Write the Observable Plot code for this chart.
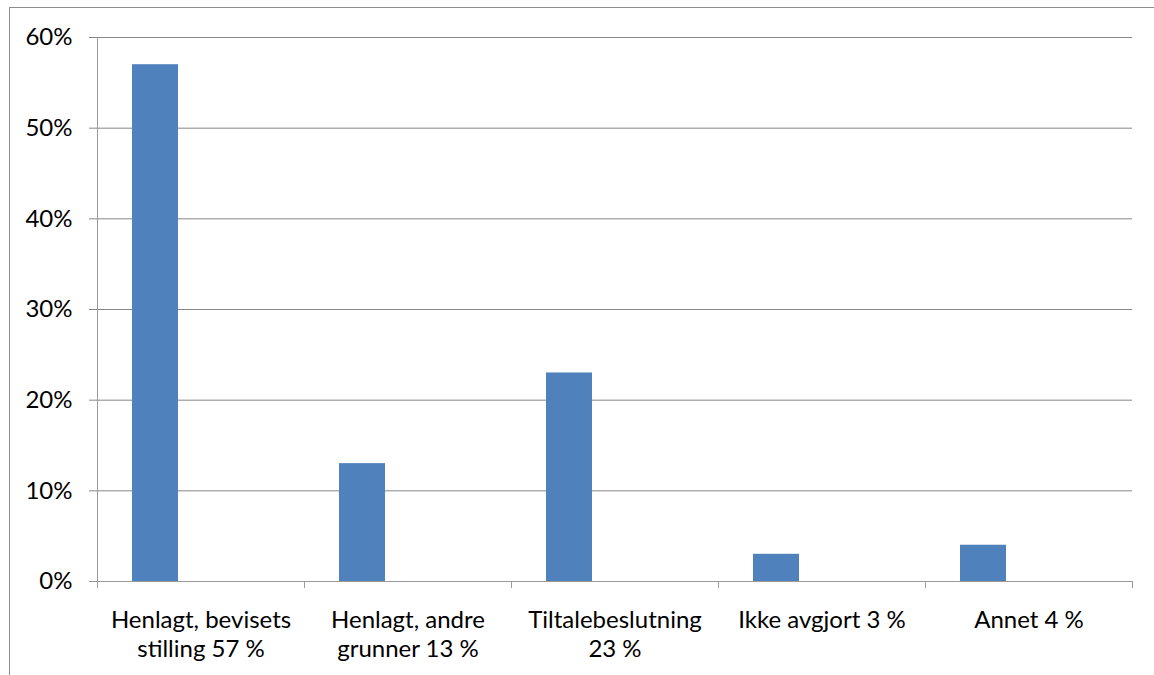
<!DOCTYPE html>
<html><head><meta charset="utf-8">
<script src="https://cdn.jsdelivr.net/npm/d3@7"></script>
<script src="https://cdn.jsdelivr.net/npm/@observablehq/plot@0.6"></script>
<style>
html,body{margin:0;padding:0;background:#fff;}
#wrap{position:relative;width:1154px;height:675px;overflow:hidden;}
#frame{position:absolute;left:9px;top:7px;width:1300px;height:800px;border-left:1px solid #8c8c8c;border-top:1px solid #8c8c8c;box-sizing:border-box;}
#chart{position:absolute;left:0;top:0;}
</style></head><body><div id="wrap"><div id="frame"></div><div id="chart"></div></div>
<script>
const categories = [
  "Henlagt, bevisets\nstilling 57 %",
  "Henlagt, andre\ngrunner 13 %",
  "Tiltalebeslutning\n23 %",
  "Ikke avgjort 3 %",
  "Annet 4 %"
];
const values = [57, 13, 23, 3, 4];
const yTicks = [0, 10, 20, 30, 40, 50, 60];

const W = 1154, H = 675, mL = 97, mR = 22, mT = 37, mB = 94;
const bw = (W - mL - mR) / categories.length;
const data = categories.map((c, i) => ({category: c, value: values[i]}));
const fs = 24;

const chart = Plot.plot({
  width: W, height: H,
  marginLeft: mL, marginRight: mR, marginTop: mT, marginBottom: mB,
  style: {fontFamily: "Lato, 'Open Sans', sans-serif", fontSize: fs + "px", color: "#000", background: "transparent", overflow: "visible"},
  x: {domain: categories, padding: 0, label: null},
  y: {domain: [0, 60], label: null},
  marks: [
    Plot.ruleY(yTicks.filter(d => d > 0), {y: d => d, stroke: "#868686", insetLeft: -8}),
    Plot.barY(data, {x: "category", y: "value", fill: "#4F81BD", insetLeft: 35, insetRight: bw - 81}),
    Plot.ruleY([0], {y: d => d, stroke: "#9a9a9a", insetLeft: -8}),
    Plot.ruleX([categories[0]], {x: d => d, dx: -bw / 2, stroke: "#9a9a9a"}),
    Plot.ruleX(categories, {x: d => d, y1: 0, y2: 0, insetBottom: -7, dx: -bw / 2, stroke: "#9a9a9a"}),
    Plot.ruleX([categories[categories.length - 1]], {x: d => d, y1: 0, y2: 0, insetBottom: -7, dx: bw / 2, stroke: "#9a9a9a"}),
    Plot.axisY({ticks: yTicks, tickSize: 0, tickPadding: 25, tickFormat: d => d + "%", fontSize: fs, fill: "#000", label: null}),
    Plot.axisX({tickSize: 0, tickPadding: 26, fontSize: fs, lineHeight: 29 / fs, fill: "#000", label: null})
  ]
});
document.getElementById("chart").appendChild(chart);
</script>
</body></html>
